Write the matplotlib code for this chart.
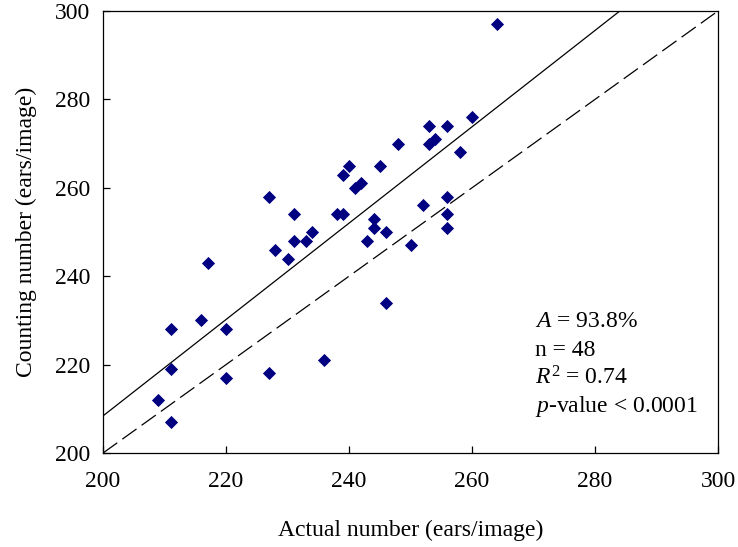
import numpy as np
import matplotlib.pyplot as plt

plt.rcParams['font.family'] = ['Liberation Serif', 'DejaVu Serif']
plt.rcParams['mathtext.fontset'] = 'custom'
plt.rcParams['mathtext.rm'] = 'Liberation Serif'
plt.rcParams['mathtext.it'] = 'Liberation Serif:italic'

# actual vs counted ears per image
actual = [264, 260, 253, 256, 253, 254, 248, 258, 240, 245, 239, 241, 242, 227,
          256, 252, 231, 238, 239, 256, 244, 244, 256, 234, 246, 231, 233, 243,
          250, 228, 230, 217, 246, 216, 211, 220, 236, 211, 227, 220, 209, 211]
counted = [297, 276, 274, 274, 270, 271, 270, 268, 265, 265, 263, 260, 261, 258,
           258, 256, 254, 254, 254, 254, 253, 251, 251, 250, 250, 248, 248, 248,
           247, 246, 244, 243, 234, 230, 228, 228, 221, 219, 218, 217, 212, 207]

fit_slope = 1.09
fit_intercept = -9.6
line_x = [200, 300]
stats = [r'$A$ = 93.8%', 'n = 48', r'$R^2$ = 0.74', r'$p$-value < 0.0001']

fig = plt.figure(figsize=(7.38, 5.47), dpi=100)
ax = fig.add_axes([0.1396, 0.1718, 0.8334, 0.8082])

lx = np.array(line_x)
ax.plot(lx, fit_slope * lx + fit_intercept, color='black', lw=0.9)
ax.plot(lx, lx, color='black', lw=0.9, dashes=(14, 5))
ax.scatter(actual, counted, marker='D', s=45, color='#000080', zorder=3, linewidths=0)

ax.set_xlim(200, 300)
ax.set_ylim(200, 300)
ax.set_xticks(np.arange(200, 301, 20))
ax.set_yticks(np.arange(200, 301, 20))
ax.tick_params(direction='in', length=5, width=0.9, labelsize=17)
ax.tick_params(axis='x', pad=13)
ax.tick_params(axis='y', pad=9)
for s in ax.spines.values():
    s.set_linewidth(0.9)

ax.set_xlabel('Actual number (ears/image)', fontsize=17, labelpad=20)
ax.set_ylabel('Counting number (ears/image)', fontsize=17, labelpad=13)

y0 = 0.297
for i, t in enumerate(stats):
    ax.text(0.702, y0 - i * 0.064, t, transform=ax.transAxes, fontsize=17, va='center', ha='left')

fig.savefig('out.png', dpi=100)
